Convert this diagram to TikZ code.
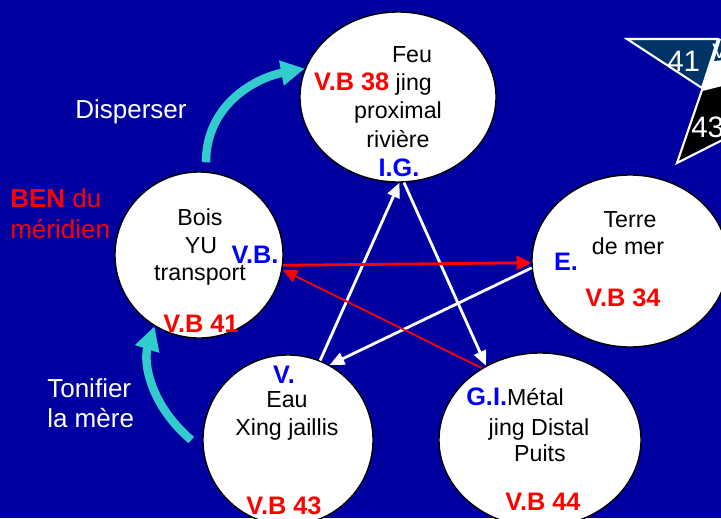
\documentclass[tikz,border=0pt]{standalone}
\usepackage{fontspec}
\setmainfont{Liberation Sans}
\usepackage{tikz}
\usetikzlibrary{shapes.geometric, calc}
\usetikzlibrary{arrows.meta}

\definecolor{fondbleu}{HTML}{0000A0}
\definecolor{turquoise}{HTML}{33CCCC}
\definecolor{bleuvif}{HTML}{0000FF}
\definecolor{marine}{HTML}{003366}

\tikzset{
  element/.style={ellipse, draw=black, line width=1pt, fill=white, inner sep=0pt},
  txt/.style={font=\fontsize{16.5}{19}\selectfont, inner sep=0pt, anchor=base},
  pointvb/.style={text=red, font=\fontsize{18}{21}\selectfont\bfseries, inner sep=0pt, anchor=base},
  organe/.style={text=bleuvif, font=\fontsize{18}{21}\selectfont\bfseries, inner sep=0pt, anchor=base},
  cote/.style={text=white, font=\fontsize{18.5}{22}\selectfont, inner sep=0pt, anchor=base west},
  etoile/.style={draw=white, line width=1.5pt, line join=miter},
  etiq/.style={text=white, font=\fontsize{21}{24}\selectfont, inner sep=0pt, anchor=base west},
  sheng/.style={draw=white, line width=2pt, -{Triangle[length=10.5pt,width=9pt]}},
  ko/.style={draw=red, line width=2pt, -{Triangle[length=10.5pt,width=10pt]}},
  kofin/.style={draw=red, line width=1.3pt, -{Triangle[length=10.5pt,width=9pt]}},
  mere/.style={draw=turquoise, line width=6pt, -{Triangle[length=17pt,width=17pt]}}
}

\begin{document}
\begin{tikzpicture}[x=0.025cm, y=-0.025cm]
        % Background
        \useasboundingbox (0,0) rectangle (721,518);
        \clip (0,0) rectangle (721,518);
        \fill[fondbleu] (0,0) rectangle (721,518);

        % Star in the corner
        \fill[white] (712,39) -- (745,39) -- (745,100) -- (702,90) -- cycle;
        \filldraw[etoile, fill=marine] (627,39) -- (718,39) -- (702,88) -- cycle;
        \fill[marine] (721,39) -- (745,39) -- (745,58) -- (714,61) -- cycle;
        \filldraw[etoile, fill=black] (702,90) -- (677,163) -- (750,126) -- (750,78) -- cycle;
        \node[etiq] (n41) at (667,72) {41};
        \node[etiq] (n43) at (691,138) {43};
        \node[etiq, font=\fontsize{15}{18}\selectfont] (nv) at (712,59) {V};

        % Draw circles
        \node[element, minimum width=4.9cm, minimum height=4.25cm] (feu) at (398,97) {};
        \node[element, minimum width=4.2cm, minimum height=4.15cm] (bois) at (199,255) {};
        \node[element, minimum width=4.9cm, minimum height=4.3cm] (terre) at (630,261) {};
        \node[element, minimum width=4.25cm, minimum height=4.25cm] (eau) at (288,440) {};
        \node[element, minimum width=5.05cm, minimum height=4.35cm] (metal) at (540,440) {};

        % Label contents
        \node[txt] (feu1) at (412,63) {Feu};
        \node[txt] (feu2) at (373,91) {\textcolor{red}{\fontsize{18}{21}\selectfont\bfseries V.B 38} jing};
        \node[txt] (feu3) at (398,118) {proximal};
        \node[txt] (feu4) at (398,147) {rivière};
        \node[organe] (ig) at (399,176) {I.G.};

        \node[txt] (bois1) at (200,225) {Bois};
        \node[txt] (bois2) at (201,253) {YU};
        \node[txt] (bois3) at (200,280) {transport};
        \node[organe] (vb) at (255,263) {V.B.};
        \node[pointvb] (vb41) at (201,332) {V.B 41};

        \node[txt] (terre1) at (630,227) {Terre};
        \node[txt] (terre2) at (628,254) {de mer};
        \node[organe] (e) at (566,270) {E.};
        \node[pointvb] (vb34) at (623,306) {V.B 34};

        \node[organe] (v) at (284,383) {V.};
        \node[txt] (eau1) at (287,407) {Eau};
        \node[txt] (eau2) at (287,435) {Xing jaillis};
        \node[pointvb] (vb43) at (284,514) {V.B 43};

        \node[txt, anchor=base west] (metal1) at (466,405) {\textcolor{bleuvif}{\fontsize{18}{21}\selectfont\bfseries G.I.}Métal};
        \node[txt] (metal2) at (539,435) {jing Distal};
        \node[txt] (metal3) at (540,461) {Puits};
        \node[pointvb] (vb44) at (543,510) {V.B 44};

        % Side labels
        \node[cote] (disp) at (75,118) {Disperser};
        \node[cote, text=red] (ben) at (10,207) {\textbf{BEN} du};
        \node[cote, text=red] (meri) at (10,238) {méridien};
        \node[cote] (toni) at (47,397) {Tonifier};
        \node[cote] (lamere) at (47,427) {la mère};

        % Star arrows
        \draw[sheng] (eau.68) -- (feu.271);
        \draw[sheng] (feu.274) -- (metal.126);
        \draw[sheng] (terre.184) -- (eau.61);
        \draw[ko] (bois.-7) -- (terre.181);
        \draw[kofin] (metal.129) -- (bois.-10);

        % Mother and son arrows
        \draw[mere] ($(bois.north)+(7,-9)$) .. controls (206,105) and (255,78) .. (feu.163);
        \draw[mere] ($(eau.west)+(-11,0)$) .. controls (150,405) and (143,362) .. (bois.238);
\end{tikzpicture}
\end{document}
